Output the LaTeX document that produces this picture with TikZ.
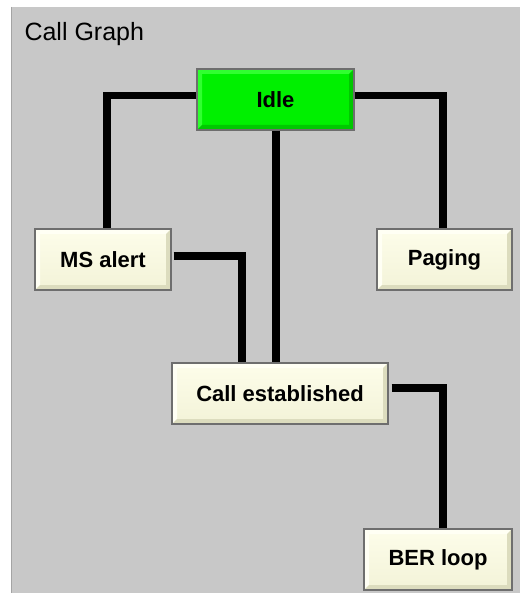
\documentclass[tikz,border=0pt]{standalone}
\usepackage{fontspec}
\setmainfont{Liberation Sans}
\definecolor{panel}{HTML}{C8C8C8}
\definecolor{paneledge}{HTML}{A4A4A4}
\definecolor{boxborder}{HTML}{6E6E6E}
\definecolor{creamtop}{HTML}{FDFDEA}
\definecolor{creambot}{HTML}{F3F3D8}
\definecolor{creamlight}{HTML}{FFFFF4}
\definecolor{creamdark}{HTML}{DCDCBE}
\definecolor{greenmain}{HTML}{00F000}
\definecolor{greenlight}{HTML}{30FF30}
\definecolor{greendark}{HTML}{00C800}
\newcommand\bevelpic[3]{%
  \fill[#1] (path picture bounding box.south west) -- (path picture bounding box.north west)
    -- (path picture bounding box.north east) -- ([xshift=-#3,yshift=-#3]path picture bounding box.north east)
    -- ([xshift=#3,yshift=-#3]path picture bounding box.north west) -- ([xshift=#3,yshift=#3]path picture bounding box.south west) -- cycle;
  \fill[#2] (path picture bounding box.south west) -- (path picture bounding box.south east)
    -- (path picture bounding box.north east) -- ([xshift=-#3,yshift=-#3]path picture bounding box.north east)
    -- ([xshift=-#3,yshift=#3]path picture bounding box.south east) -- ([xshift=#3,yshift=#3]path picture bounding box.south west) -- cycle;
}
\tikzset{
  box/.style={draw=boxborder, line width=1.3pt, minimum height=61pt, inner sep=0pt,
    font=\bfseries\fontsize{22}{24}\selectfont, top color=creamtop, bottom color=creambot,
    path picture={\bevelpic{creamlight}{creamdark}{5pt}}},
  greenbox/.style={box, top color=greenmain, bottom color=greenmain,
    path picture={\bevelpic{greenlight}{greendark}{5pt}}},
  conn/.style={line width=7.5pt, black, line join=miter},
}
\begin{document}
\begin{tikzpicture}[x=1pt,y=-1pt]
\useasboundingbox (0,0) rectangle (520,593);
\fill[white] (0,0) rectangle (520,593);
\fill[panel] (11,7) rectangle (520,593);
\draw[paneledge, line width=1pt] (11.5,7) -- (11.5,593);
\node[anchor=base west, font=\fontsize{25}{27}\selectfont] (title) at (21,41) {Call Graph};

\node[greenbox, minimum width=157pt] (idle) at (275.5,99.5) {Idle};
\node[box, minimum width=136pt] (msalert) at (103,259.5) {MS alert};
\node[box, minimum width=135pt] (paging) at (444.5,259.5) {Paging};
\node[box, minimum width=216pt] (callest) at (280,393.5) {Call established};
\node[box, minimum width=148pt] (berloop) at (438,559.5) {BER loop};

\draw[conn] ([yshift=4pt]idle.west) -| ([xshift=4pt]msalert.north);
\draw[conn] ([yshift=4pt]idle.east) -| ([xshift=-1.5pt]paging.north);
\draw[conn] ([xshift=0.5pt]idle.south) -- ([xshift=0.5pt]idle.south |- callest.north);
\draw[conn] ([xshift=2pt,yshift=3.5pt]msalert.east) -| ([xshift=-38pt]callest.north);
\draw[conn] ([xshift=3pt,yshift=5.5pt]callest.east) -| ([xshift=5pt]berloop.north);
\end{tikzpicture}
\end{document}
